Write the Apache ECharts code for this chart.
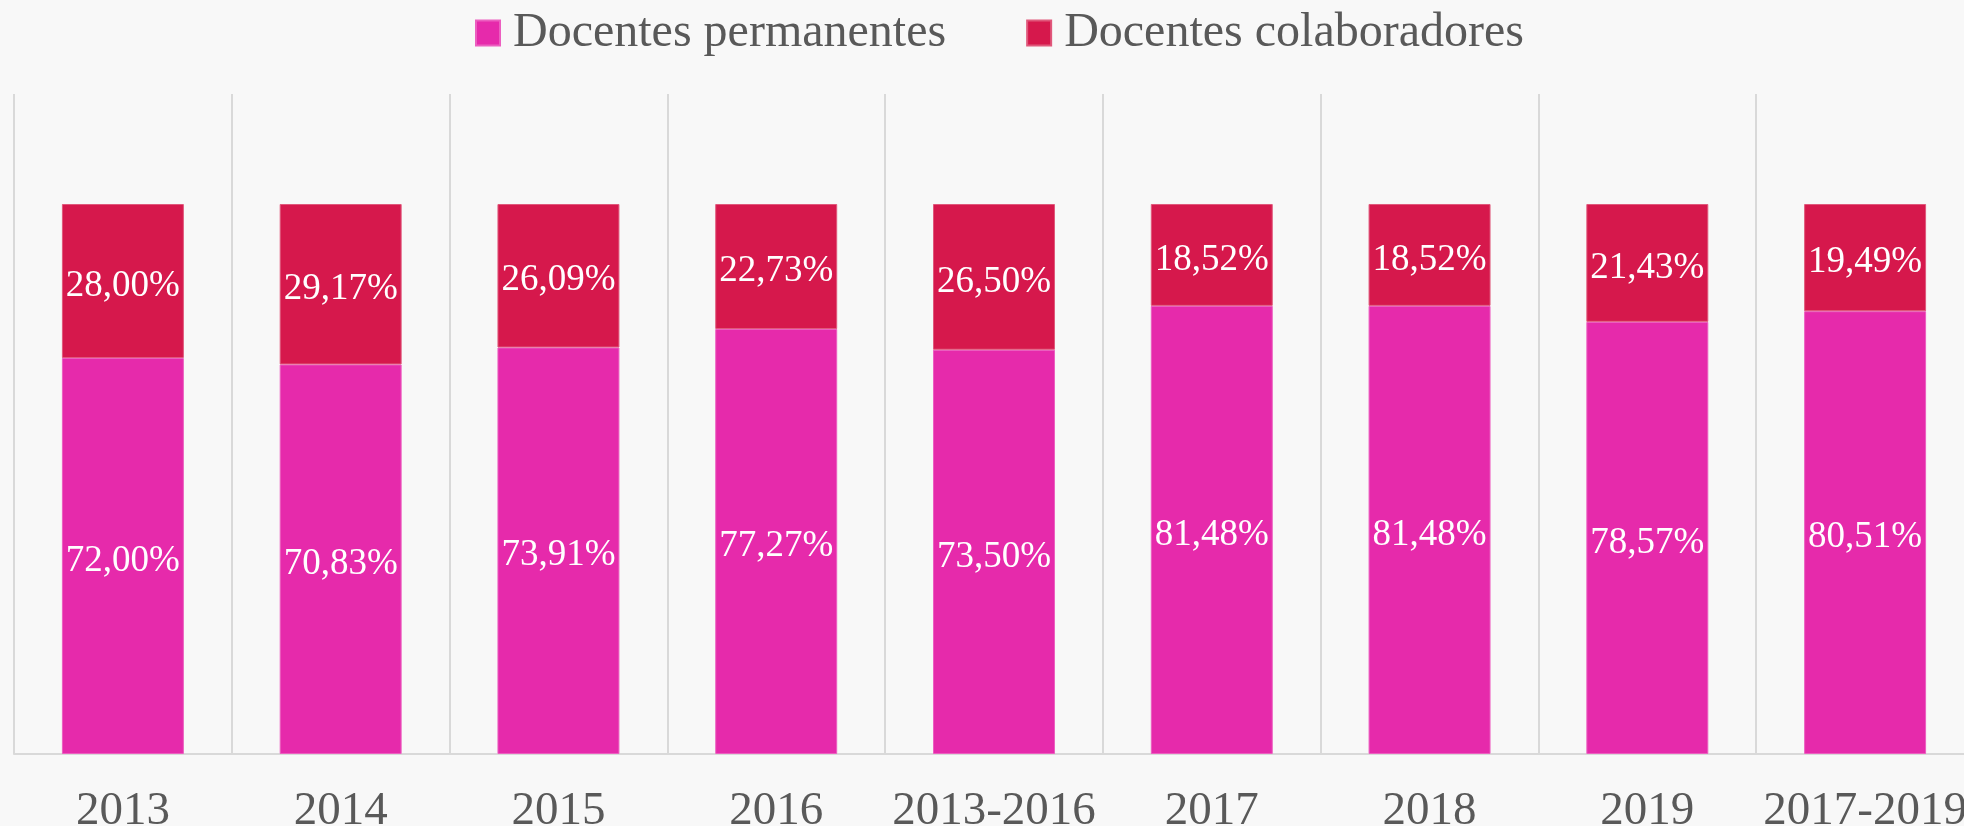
<!DOCTYPE html>
<html>
<head>
<meta charset="utf-8">
<script src="https://cdn.jsdelivr.net/npm/echarts@6/dist/echarts.min.js"></script>
<style>
  html, body { margin: 0; padding: 0; background: #f8f8f8; }
  #chart { width: 1964px; height: 826px; }
</style>
</head>
<body>
<div id="chart"></div>
<script>
// periodos
var categories = ["2013", "2014", "2015", "2016", "2013-2016", "2017", "2018", "2019", "2017-2019"];
// % docentes permanentes
var permanentes = [72.00, 70.83, 73.91, 77.27, 73.50, 81.48, 81.48, 78.57, 80.51];
// % docentes colaboradores
var colaboradores = [28.00, 29.17, 26.09, 22.73, 26.50, 18.52, 18.52, 21.43, 19.49];

var serif = "'Liberation Serif', 'DejaVu Serif', serif";

function fmt(p) {
  return p.value.toFixed(2).replace(".", ",") + "%";
}

var chart = echarts.init(document.getElementById("chart"));

var option = {
  backgroundColor: "#f8f8f8",
  animation: false,
  legend: {
    top: 4,
    left: 470,
    itemWidth: 24,
    itemHeight: 25,
    itemGap: 80,
    icon: "rect",
    textStyle: { fontFamily: serif, fontSize: 48, color: "#595959", padding: [0, 0, 0, 8] },
    data: ["Docentes permanentes", "Docentes colaboradores"]
  },
  grid: { left: 14, right: -10, top: 94, bottom: 72, outerBoundsMode: "none", containLabel: false },
  xAxis: {
    type: "category",
    data: categories,
    axisTick: { show: false },
    axisLine: { lineStyle: { color: "#d9d9d9", width: 2 } },
    splitLine: { show: true, interval: 0, lineStyle: { color: "#d9d9d9", width: 2 } },
    axisLabel: {
      interval: 0,
      margin: 34,
      fontFamily: serif,
      fontSize: 47,
      color: "#595959"
    }
  },
  yAxis: {
    type: "value",
    min: 0,
    max: 120,
    show: false,
    splitLine: { show: false }
  },
  series: [
    {
      name: "Docentes permanentes",
      type: "bar",
      stack: "total",
      barWidth: "56%",
      data: permanentes,
      itemStyle: { color: "#e62aab", borderColor: "#ec5fc0", borderWidth: 1 },
      label: {
        show: true,
        position: "inside",
        offset: [0, 5],
        formatter: fmt,
        fontFamily: serif,
        fontSize: 37,
        color: "#ffffff"
      }
    },
    {
      name: "Docentes colaboradores",
      type: "bar",
      stack: "total",
      barWidth: "56%",
      data: colaboradores,
      itemStyle: { color: "#d6184c", borderColor: "#e0587b", borderWidth: 1 },
      label: {
        show: true,
        position: "inside",
        offset: [0, 5],
        formatter: fmt,
        fontFamily: serif,
        fontSize: 37,
        color: "#ffffff"
      }
    }
  ]
};

chart.setOption(option);
</script>
</body>
</html>
